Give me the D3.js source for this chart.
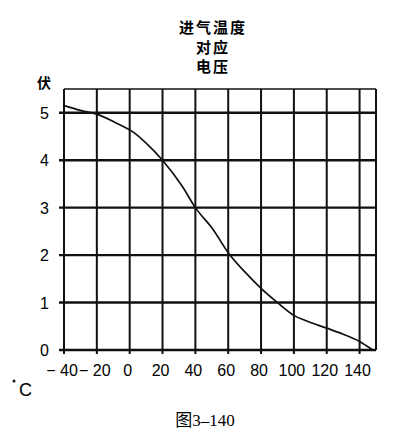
<!DOCTYPE html>
<html>

<head>
	<meta charset="utf-8">
	<script src="https://d3js.org/d3.v7.min.js"></script>
	<title> 进气温度对应电压 </title>
	<style>
		html,
		body {
			margin: 0;
			padding: 0;
			background: #fff;
		}

		svg {
			display: block;
		}

		.grid line {
			stroke: #111;
		}
	</style>
</head>

<body>
	<svg width="397" height="447"></svg>

	<script>
		// data
		const tempTicks = [-40, -20, 0, 20, 40, 60, 80, 100, 120, 140];
		const tempLabels = ["\u2212 40", "\u2212 20", "0", "20", "40", "60", "80", "100", "120", "140"];
		const voltTicks = [0, 1, 2, 3, 4, 5];
		const curveTemp = [-40, -30, -20, -8, 3, 10, 20, 32, 40, 51, 60, 70, 80, 90, 100, 107, 120, 128, 140, 148];
		const curveVolt = [5.15, 5.05, 4.97, 4.78, 4.57, 4.36, 4.0, 3.45, 3.0, 2.53, 2.05, 1.65, 1.3, 1.0, 0.73, 0.62, 0.46, 0.36, 0.18, 0.0];
		const titleLines = ["进气温度", "对应", "电压"];

		const svg = d3.select("svg");

		const x = d3.scaleLinear().domain([-40, 150]).range([64, 376]);
		const y = d3.scaleLinear().domain([0, 5.5]).range([350, 89]);

		// title
		svg.selectAll(".title")
			.data(titleLines)
			.enter()
			.append("text")
			.attr("class", "title")
			.attr("x", 213)
			.attr("y", (d, i) => 33 + i * 19.5)
			.attr("text-anchor", "middle")
			.style("font-family", "'Noto Sans CJK SC'")
			.style("font-weight", "bold")
			.style("font-size", "15px")
			.style("letter-spacing", "2px")
			.text(d => d);

		// grid
		const grid = svg.append("g").attr("class", "grid");

		grid.selectAll(".vline")
			.data(tempTicks.concat([150]))
			.enter()
			.append("line")
			.attr("x1", d => x(d))
			.attr("x2", d => x(d))
			.attr("y1", y(5.5))
			.attr("y2", d => d === 150 ? y(0) : y(0) + 4)		// little tick under the axis
			.attr("stroke-width", 2);

		grid.selectAll(".hline")
			.data(voltTicks.concat([5.5]))
			.enter()
			.append("line")
			.attr("x1", d => d === 5.5 ? x(-40) : x(-40) - 5)
			.attr("x2", x(150))
			.attr("y1", d => y(d))
			.attr("y2", d => y(d))
			.attr("stroke-width", d => d === 5.5 ? 1.6 : 2.4);

		// axis labels
		svg.selectAll(".ylab")
			.data(voltTicks)
			.enter()
			.append("text")
			.attr("x", 49)
			.attr("y", d => y(d) + 6)
			.attr("text-anchor", "end")
			.style("font-family", "'Liberation Sans', Arial, sans-serif")
			.style("font-size", "16px")
			.text(d => d);

		svg.selectAll(".xlab")
			.data(tempTicks)
			.enter()
			.append("text")
			.attr("x", d => x(d) - 2)
			.attr("y", 376)
			.attr("text-anchor", "middle")
			.style("font-family", "'Liberation Sans', Arial, sans-serif")
			.style("font-size", "16px")
			.text((d, i) => tempLabels[i]);

		svg.append("text")
			.attr("x", 44)
			.attr("y", 88)
			.attr("text-anchor", "middle")
			.style("font-family", "'Noto Sans CJK SC'")
			.style("font-weight", "bold")
			.style("font-size", "14px")
			.text("伏");

		svg.append("circle")
			.attr("cx", 14)
			.attr("cy", 381)
			.attr("r", 1.5)
			.attr("fill", "#111");

		svg.append("text")
			.attr("x", 19)
			.attr("y", 396)
			.style("font-family", "'Liberation Sans', Arial, sans-serif")
			.style("font-size", "18px")
			.text("C");

		// the curve
		const pts = curveTemp.map((t, i) => [t, curveVolt[i]]);
		svg.append("path")
			.datum(pts)
			.attr("fill", "none")
			.attr("stroke", "#111")
			.attr("stroke-width", 1.7)
			.attr("d", d3.line()
				.x(d => x(d[0]))
				.y(d => y(d[1]))
				.curve(d3.curveMonotoneX));

		// caption
		svg.append("text")
			.attr("x", 205)
			.attr("y", 426)
			.attr("text-anchor", "middle")
			.style("font-family", "'Liberation Serif', 'Noto Sans CJK SC', serif")
			.style("font-size", "17px")
			.text("图3\u2013140");
	</script>

</body>

</html>
